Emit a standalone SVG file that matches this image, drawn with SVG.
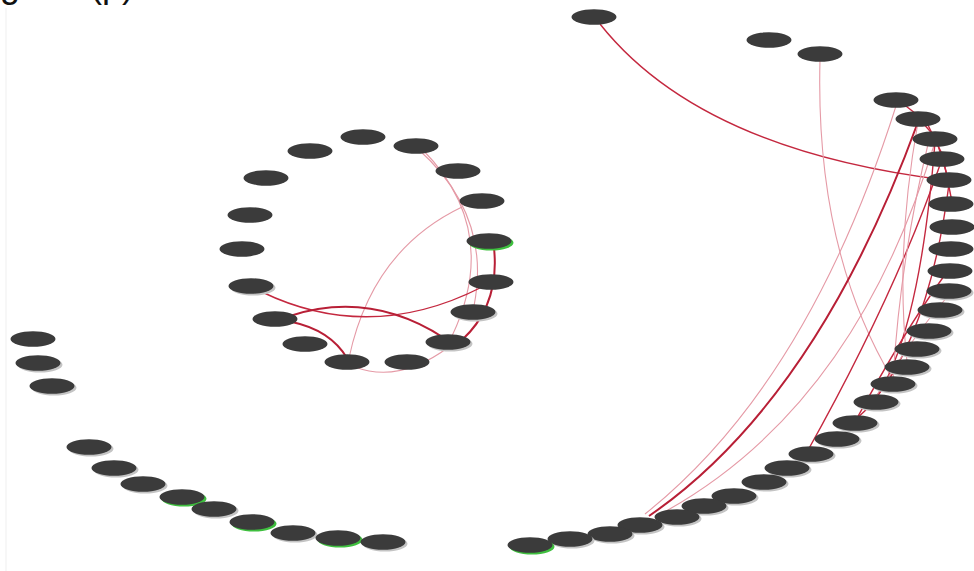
<svg xmlns="http://www.w3.org/2000/svg" width="974" height="571" viewBox="0 0 974 571">
<style>
.nf{fill:#3b3b3b}
.sh{fill:#c4c4c4}
.gr{fill:#3fbf3f}
.e{fill:none;stroke:#c4283f;stroke-width:1.4}
.ek{fill:none;stroke:#b81f36;stroke-width:2}
.ep{fill:none;stroke:#e59aa6;stroke-width:1.1}
.t{font-family:"Liberation Sans",Arial,sans-serif;font-size:36px;fill:#111}
</style>
<defs>
<g id="nd"><ellipse cx="2" cy="1.8" rx="22.5" ry="7.8" class="sh"/><ellipse rx="22.5" ry="7.8" class="nf"/></g>
<g id="ng"><ellipse cx="2" cy="1.8" rx="22.5" ry="7.8" class="gr"/><ellipse rx="22.5" ry="7.8" class="nf"/></g>
<g id="np"><ellipse rx="22.5" ry="7.8" class="nf"/></g>
</defs>
<rect width="974" height="571" fill="#fff"/>
<line x1="6" y1="8" x2="6" y2="571" stroke="#efefef" stroke-width="1"/>
<text class="t" x="0" y="-3">gene (p)</text>

<g id="connectors">
<path class="ep" d="M418,149 Q492,215 474,306"/>
<path class="ep" d="M422,149 Q502,230 452,336"/>
<path class="ek" d="M494,248 Q500,305 462,340"/>
<path class="ep" d="M462,207 Q372,250 349,358"/>
<path class="e" d="M262,292 Q370,344 482,287"/>
<path class="ek" d="M290,316 Q370,290 444,338"/>
<path class="ek" d="M292,322 Q330,330 347,358"/>
<path class="ep" d="M355,367 Q400,384 450,346"/>
<path class="e" d="M600,24 Q700,150 945,180"/>
<path class="ep" d="M820,60 Q815,250 893,380"/>
<path class="ep" d="M896,106 Q808,384 645,514"/>
<path class="ek" d="M918,122 Q816,401 649,516"/>
<path class="ep" d="M935,142 Q854,411 657,516"/>
<path class="e" d="M941,162 Q896,293 807,452"/>
<path class="e" d="M935,142 Q916,379 854,420"/>
<path class="ep" d="M918,122 Q895,250 907,362"/>
<path class="e" d="M949,184 Q930,330 876,398"/>
<path class="e" d="M944,276 Q905,330 856,420"/>
<path class="ep" d="M948,296 Q910,340 874,400"/>
<path class="ep" d="M929,140 Q900,260 893,380"/>
<path class="e" d="M902,103 L920,117"/>
<path class="e" d="M922,122 L936,138"/>
<path class="e" d="M926,121 L944,158"/>
<path class="e" d="M937,142 L948,178"/>
<path class="e" d="M944,162 L952,202"/>
</g>

<g id="n-r1"><use href="#np" x="594" y="17"/></g>
<g id="n-r2"><use href="#np" x="769" y="40"/></g>
<g id="n-r3"><use href="#np" x="820" y="54"/></g>
<g id="n-r4"><use href="#np" x="896" y="100"/></g>
<g id="n-r5"><use href="#np" x="918" y="119"/></g>
<g id="n-r6"><use href="#np" x="935" y="139"/></g>
<g id="n-r7"><use href="#np" x="942" y="159"/></g>
<g id="n-r8"><use href="#np" x="949" y="180"/></g>
<g id="n-r9"><use href="#np" x="951" y="204"/></g>
<g id="n-r10"><use href="#np" x="952" y="227"/></g>
<g id="n-r11"><use href="#np" x="951" y="249"/></g>
<g id="n-r12"><use href="#np" x="950" y="271"/></g>
<g id="n-r13"><use href="#nd" x="949" y="291"/></g>
<g id="n-r14"><use href="#nd" x="940" y="310"/></g>
<g id="n-r15"><use href="#nd" x="929" y="331"/></g>
<g id="n-r16"><use href="#nd" x="917" y="349"/></g>
<g id="n-r17"><use href="#nd" x="907" y="367"/></g>
<g id="n-r18"><use href="#nd" x="893" y="384"/></g>
<g id="n-r19"><use href="#nd" x="876" y="402"/></g>
<g id="n-r20"><use href="#nd" x="855" y="423"/></g>
<g id="n-r21"><use href="#nd" x="837" y="439"/></g>
<g id="n-r22"><use href="#nd" x="811" y="454"/></g>
<g id="n-r23"><use href="#nd" x="787" y="468"/></g>
<g id="n-r24"><use href="#nd" x="764" y="482"/></g>
<g id="n-r25"><use href="#nd" x="734" y="496"/></g>
<g id="n-r26"><use href="#nd" x="704" y="506"/></g>
<g id="n-r27"><use href="#nd" x="677" y="517"/></g>
<g id="n-r28"><use href="#nd" x="640" y="525"/></g>
<g id="n-r29"><use href="#nd" x="610" y="534"/></g>
<g id="n-r30"><use href="#nd" x="570" y="539"/></g>
<g id="n-r31"><use href="#ng" x="530" y="545"/></g>

<g id="n-c1"><use href="#np" x="363" y="137"/></g>
<g id="n-c2"><use href="#np" x="416" y="146"/></g>
<g id="n-c3"><use href="#np" x="310" y="151"/></g>
<g id="n-c4"><use href="#np" x="458" y="171"/></g>
<g id="n-c5"><use href="#np" x="266" y="178"/></g>
<g id="n-c6"><use href="#np" x="482" y="201"/></g>
<g id="n-c7"><use href="#np" x="250" y="215"/></g>
<g id="n-c8"><use href="#ng" x="489" y="241"/></g>
<g id="n-c9"><use href="#np" x="242" y="249"/></g>
<g id="n-c10"><use href="#np" x="491" y="282"/></g>
<g id="n-c11"><use href="#nd" x="251" y="286"/></g>
<g id="n-c12"><use href="#nd" x="473" y="312"/></g>
<g id="n-c13"><use href="#np" x="275" y="319"/></g>
<g id="n-c14"><use href="#nd" x="448" y="342"/></g>
<g id="n-c15"><use href="#np" x="305" y="344"/></g>
<g id="n-c16"><use href="#np" x="347" y="362"/></g>
<g id="n-c17"><use href="#np" x="407" y="362"/></g>

<g id="n-l1"><use href="#np" x="33" y="339"/></g>
<g id="n-l2"><use href="#nd" x="38" y="363"/></g>
<g id="n-l3"><use href="#nd" x="52" y="386"/></g>
<g id="n-l4"><use href="#nd" x="89" y="447"/></g>
<g id="n-l5"><use href="#nd" x="114" y="468"/></g>
<g id="n-l6"><use href="#nd" x="143" y="484"/></g>
<g id="n-l7"><use href="#ng" x="182" y="497"/></g>
<g id="n-l8"><use href="#nd" x="214" y="509"/></g>
<g id="n-l9"><use href="#ng" x="252" y="522"/></g>
<g id="n-l10"><use href="#nd" x="293" y="533"/></g>
<g id="n-l11"><use href="#ng" x="338" y="538"/></g>
<g id="n-l12"><use href="#nd" x="383" y="542"/></g>
</svg>
